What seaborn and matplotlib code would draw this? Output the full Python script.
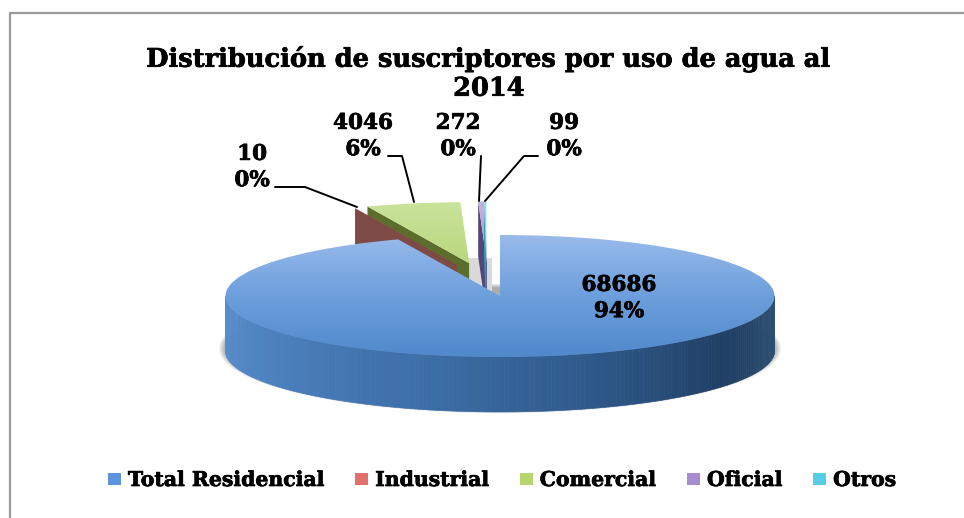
import numpy as np
import matplotlib
matplotlib.use("Agg")
import matplotlib.pyplot as plt
import matplotlib.patheffects as pe
from matplotlib.collections import PolyCollection
from matplotlib.patches import Ellipse, Patch
import seaborn as sns

# data
categories = ["Total Residencial", "Industrial", "Comercial", "Oficial", "Otros"]
subscribers = [68686, 10, 4046, 272, 99]
title = "Distribución de suscriptores por uso de agua al\n2014"

W, H = 964, 518
CX, CY = 500, 296     # pie centre, px
RX, RY = 274.5, 61    # ellipse radii, px
DEPTH = 55            # px

sns.set_theme(style="white")
plt.rcParams["font.family"] = ["DejaVu Serif", "Liberation Serif"]
plt.rcParams["font.weight"] = "bold"

blue_top = sns.blend_palette(["#9BBCEB", "#6D9FDD", "#4F88CB"], 64)
blue_wall = sns.blend_palette(["#5B8FCE", "#4A80BE", "#3D6FA8", "#2F5A8C", "#1F3F64", "#2F5273"], 200)
green_top = sns.blend_palette(["#CBE39C", "#A8CB60"], 32)
purple_top = sns.blend_palette(["#C4B2E0", "#9A82C2"], 32)
cyan_top = sns.blend_palette(["#8FE0F0", "#5FCBE4"], 32)
red_top = sns.blend_palette(["#E08A86", "#C0504D"], 32)
face_colors = ["#3D6FA8", "#7E4A45", "#5C6E2B", "#54457A", "#2E9DB5"]
legend_colors = ["#5A94DC", "#E2706A", "#B4D66C", "#A68CCF", "#55CDE6"]

fig = plt.figure(figsize=(W / 100, H / 100), dpi=100)
ax = fig.add_axes([0, 0, 1, 1])

explode = [0, 0.55, 0.55, 0.55, 0.55]
wedges, _ = ax.pie(subscribers, explode=explode, startangle=90, counterclock=False,
                   radius=1, colors=["none"] * 5, center=(0, 0))
ax.set_aspect("auto")
dz = DEPTH / RY

# detached slices are nudged sideways, as they sit in the original
nudge = [0, 13, 0, -10, -13]
for w, n in zip(wedges, nudge):
    w.set_center((w.center[0] + n / RX, w.center[1]))

# tight shadow under the pie
for k in range(6):
    ax.add_patch(Ellipse((0, -dz + 0.04), 2 * (1.0 + k * 0.0045), 2 * (1.0 + k * 0.012),
                         fc="#707070", ec="none", alpha=0.13, zorder=1))
# shadow behind the gap
ax.fill_between([-32 / RX, -8 / RX], [-0.05, -0.05], [0.62, 0.62], color="#D9D9D9", zorder=1.5, lw=0)


def cut_face(w, color, z):
    # the left radial face of a slice, seen because the slice sits left of centre
    a = np.deg2rad(w.theta2)
    cx, cy = w.center
    ox, oy = cx + np.cos(a) * w.r, cy + np.sin(a) * w.r
    poly = [(ox, oy), (cx, cy), (cx, cy - dz), (ox, oy - dz)]
    ax.add_collection(PolyCollection([poly], facecolors=color, edgecolors="none", zorder=z))


def top_face(w, pal, z):
    grad = np.array(pal)[:, None, :]
    y0, y1 = w.center[1] + 1.05, w.center[1] - 1.05
    im = ax.imshow(grad, extent=(-1.2, 1.2, y1, y0), aspect="auto", origin="upper", zorder=z)
    im.set_clip_path(w)


tops = [blue_top, red_top, green_top, purple_top, cyan_top]
order = [(2, 3), (1, 3.2), (3, 3.4), (4, 3.6)]
for i, z in order:
    cut_face(wedges[i], face_colors[i], z)
    top_face(wedges[i], tops[i], z + 0.1)

# front wall of the large slice
t = np.deg2rad(np.linspace(180, 360, len(blue_wall) + 1))
strips = []
for a, b in zip(t[:-1], t[1:]):
    strips.append([(np.cos(a), np.sin(a)), (np.cos(b), np.sin(b)),
                   (np.cos(b), np.sin(b) - dz), (np.cos(a), np.sin(a) - dz)])
ax.add_collection(PolyCollection(strips, facecolors=blue_wall, edgecolors=blue_wall, lw=0.4, zorder=5))
top_face(wedges[0], blue_top, 6)
ax.set_xlim((0 - CX) / RX, (W - CX) / RX)
ax.set_ylim((CY - H) / RY, CY / RY)

# overlay in pixel units for frame, labels and leaders
ov = fig.add_axes([0, 0, 1, 1], facecolor="none")
ov.set_xlim(0, W)
ov.set_ylim(H, 0)
ov.axis("off")
ov.plot([10, 10, W], [H, 12.5, 12.5], color="#9A9A9A", lw=1.6, zorder=1)

heavy = [pe.withStroke(linewidth=0.5, foreground="black")]
ov.text(489, 73, title, ha="center", va="center", fontsize=18.5, color="black",
        linespacing=1.2, path_effects=heavy)

total = sum(subscribers)
label_pos = [(619, 298), (252, 167), (363, 136), (458, 136), (564, 136)]
for v, (x, y) in zip(subscribers, label_pos):
    ov.text(x, y, f"{v}\n{round(v / total * 100)}%", ha="center", va="center",
            fontsize=15.5, color="black", linespacing=1.25, zorder=8, path_effects=heavy)

leaders = [([275, 305, 357], [187, 187, 207]),
           ([388, 402, 414], [156, 156, 202]),
           ([481, 479], [156, 201]),
           ([538, 524, 485], [156, 156, 201])]
for xs, ys in leaders:
    ov.plot(xs, ys, color="black", lw=1.4, zorder=7)

handles = [Patch(facecolor=c, edgecolor="none") for c in legend_colors]
leg = ov.legend(handles, categories, loc="center", bbox_to_anchor=(502 / W, 1 - 480 / H),
                bbox_transform=fig.transFigure, ncol=5, frameon=False, fontsize=14.7,
                handlelength=0.64, handleheight=0.55, handletextpad=0.34, columnspacing=1.5,
                labelcolor="black")
for txt in leg.get_texts():
    txt.set_path_effects(heavy)

fig.savefig("out.png", dpi=100, facecolor="white")
